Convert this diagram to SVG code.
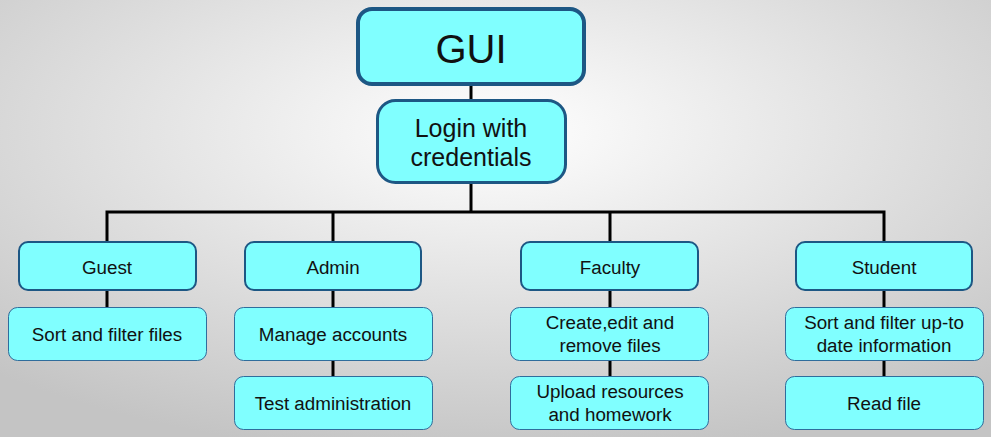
<svg xmlns="http://www.w3.org/2000/svg" width="991" height="437" viewBox="0 0 991 437">
<defs>
<radialGradient id="bg" cx="0.5" cy="0.3" r="0.75" gradientUnits="objectBoundingBox">
<stop offset="0" stop-color="#ffffff"/>
<stop offset="1" stop-color="#c4c4c4"/>
</radialGradient>
<style>
.t{font-family:"Liberation Sans",Arial,sans-serif;fill:#111;text-anchor:middle}
.s{font-size:18.8px}
.l1{fill:#80ffff;stroke:#1d5784;stroke-width:2}
.l2{fill:#80ffff;stroke:#2f6d9c;stroke-width:1}
.c{stroke:#000;stroke-width:3;fill:none;stroke-linejoin:miter}
</style>
</defs>
<rect width="991" height="437" fill="url(#bg)"/>
<g id="connectors">
<path class="c" d="M471 84V100M471 183V212M107 242V212H884V242M333 212V242M610 212V242"/>
<path class="c" d="M107 290V307M333 290V376M610 290V376M884 290V376"/>
</g>
<g id="gui"><rect x="358" y="9" width="226" height="75" rx="14" fill="#80ffff" stroke="#1d5784" stroke-width="4"/><text class="t" x="471" y="63" font-size="40">GUI</text></g>
<g id="login"><rect x="377.5" y="100.5" width="188" height="82" rx="18" fill="#80ffff" stroke="#1d5784" stroke-width="3"/><text class="t" x="471" y="137" font-size="25">Login with</text><text class="t" x="471" y="166" font-size="25">credentials</text></g>
<g id="guest"><rect class="l1" x="19" y="242" width="177" height="48" rx="9"/><text class="t s" x="107" y="274">Guest</text></g>
<g id="admin"><rect class="l1" x="245" y="242" width="176" height="48" rx="9"/><text class="t s" x="333" y="274">Admin</text></g>
<g id="faculty"><rect class="l1" x="521" y="242" width="177" height="48" rx="9"/><text class="t s" x="610" y="274">Faculty</text></g>
<g id="student"><rect class="l1" x="796" y="242" width="176" height="48" rx="9"/><text class="t s" x="884" y="274">Student</text></g>
<g id="sortfiles"><rect class="l2" x="8.5" y="307.5" width="198" height="53" rx="9"/><text class="t s" x="107" y="341">Sort and filter files</text></g>
<g id="manage"><rect class="l2" x="234.5" y="307.5" width="198" height="53" rx="9"/><text class="t s" x="333" y="341">Manage accounts</text></g>
<g id="test"><rect class="l2" x="234.5" y="376.5" width="198" height="53" rx="9"/><text class="t s" x="333" y="410">Test administration</text></g>
<g id="create"><rect class="l2" x="510.5" y="307.5" width="198" height="53" rx="9"/><text class="t s" x="610" y="329">Create,edit and</text><text class="t s" x="610" y="352">remove files</text></g>
<g id="upload"><rect class="l2" x="510.5" y="376.5" width="198" height="53" rx="9"/><text class="t s" x="610" y="398">Upload resources</text><text class="t s" x="610" y="421">and homework</text></g>
<g id="sortinfo"><rect class="l2" x="785.5" y="307.5" width="198" height="53" rx="9"/><text class="t s" x="884" y="329">Sort and filter up-to</text><text class="t s" x="884" y="352">date information</text></g>
<g id="read"><rect class="l2" x="785.5" y="376.5" width="198" height="53" rx="9"/><text class="t s" x="884" y="410">Read file</text></g>
</svg>
